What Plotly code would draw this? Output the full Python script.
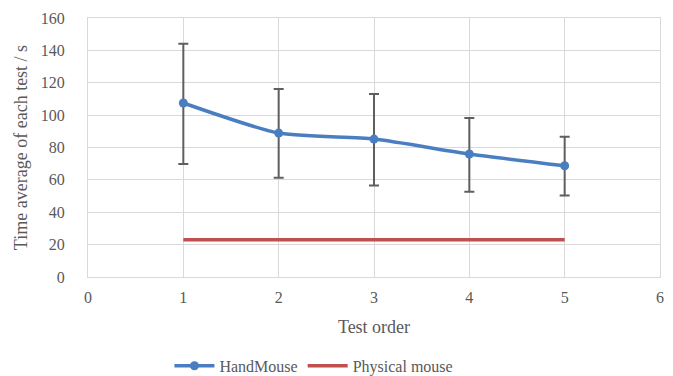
import plotly.graph_objects as go

test_order = [1, 2, 3, 4, 5]
handmouse = [107.5, 88.9, 85.2, 76.0, 68.7]
handmouse_err_plus = [36.6, 27.2, 27.8, 22.2, 18.0]
handmouse_err_minus = [37.7, 27.6, 28.6, 23.3, 18.3]
physical_mouse = [23, 23, 23, 23, 23]
x_ticks = [0, 1, 2, 3, 4, 5, 6]
y_ticks = [0, 20, 40, 60, 80, 100, 120, 140, 160]

font_family = "Liberation Serif"
grid = "#D9D9D9"
txt = "#595959"

fig = go.Figure()
fig.add_trace(go.Scatter(
    x=test_order, y=handmouse, name="HandMouse", mode="lines+markers",
    line=dict(color="#4A7EC1", width=3.5, shape="spline", smoothing=0.6),
    marker=dict(size=9, color="#4A7EC1"),
    error_y=dict(type="data", symmetric=False, array=handmouse_err_plus,
                 arrayminus=handmouse_err_minus, color="#5F5F5F", thickness=2, width=5),
))
fig.add_trace(go.Scatter(
    x=test_order, y=physical_mouse, name="Physical mouse", mode="lines",
    line=dict(color="#C0504D", width=3.5),
))

fig.update_layout(
    width=673, height=376,
    margin=dict(l=88, r=13, t=18, b=99),
    paper_bgcolor="white", plot_bgcolor="white",
    font=dict(family=font_family, size=16, color=txt),
    showlegend=True,
    legend=dict(orientation="h", x=0.395, xanchor="center", yref="container", y=0.027, yanchor="middle",
                font=dict(family=font_family, size=16, color=txt), itemwidth=40),
    xaxis=dict(
        range=[0, 6], tickvals=x_ticks, showgrid=True, gridcolor=grid, gridwidth=1,
        zeroline=False, showline=True, linecolor=grid, linewidth=1, mirror=True,
        ticks="", automargin=False, ticklabelstandoff=6,
        tickfont=dict(family=font_family, size=16, color=txt),
        title=dict(text="Test order", font=dict(family=font_family, size=18, color=txt), standoff=15),
    ),
    yaxis=dict(
        range=[0, 160], tickvals=y_ticks, showgrid=True, gridcolor=grid, gridwidth=1,
        zeroline=False, showline=True, linecolor=grid, linewidth=1, mirror=True,
        ticks="", automargin=False, ticklabelstandoff=19,
        tickfont=dict(family=font_family, size=16, color=txt),
        title=dict(text="Time average of each test / s", font=dict(family=font_family, size=18, color=txt), standoff=8),
    ),
)

fig.write_html("out.html", config={"displayModeBar": False},
               post_script="document.body.style.margin='0';")
